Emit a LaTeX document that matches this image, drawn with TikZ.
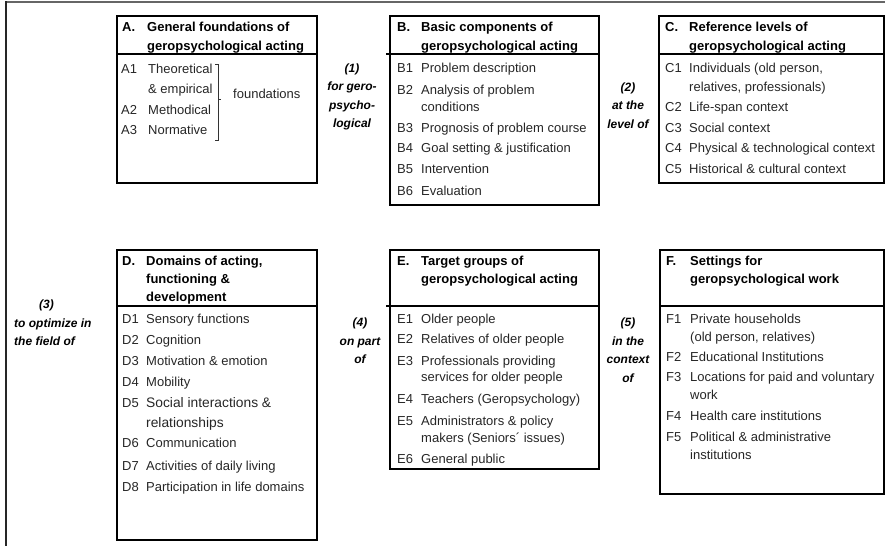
\documentclass[tikz,border=0pt]{standalone}
\usepackage{fontspec}
\setmainfont{Liberation Sans}
\begin{document}
\begin{tikzpicture}[x=1pt,y=-1pt,
  panel/.style={draw=black, line width=1.6pt, inner sep=0pt, anchor=north west},
  rule/.style={line width=1.2pt, black},
  head/.style={anchor=base west, inner sep=0pt, font=\fontsize{13}{15}\selectfont\bfseries},
  entry/.style={anchor=base west, inner sep=0pt, font=\fontsize{13}{15}\selectfont, text=black!85},
  bigentry/.style={entry, font=\fontsize{13.8}{16}\selectfont},
  link/.style={align=center, inner sep=0pt, font=\fontsize{12}{18.5}\selectfont\bfseries\itshape},
  brace/.style={line width=0.9pt, black!80},
]
\useasboundingbox (0,0) rectangle (885,546);

% outer frame: top and left edges only
\draw[line width=1.5pt, black!60] (5,2) -- (885,2);
\draw[line width=1.5pt, black!85] (6,1.3) -- (6,546);

% ---------- panels ----------
\node[panel, minimum width=200pt, minimum height=167pt] (A) at (116,15) {};
\node[panel, minimum width=209pt, minimum height=189pt] (B) at (389,15) {};
\node[panel, minimum width=225pt, minimum height=167pt] (C) at (658,15) {};
\node[panel, minimum width=200pt, minimum height=290pt] (D) at (116,249) {};
\node[panel, minimum width=209pt, minimum height=219pt] (E) at (389,249) {};
\node[panel, minimum width=224pt, minimum height=244pt] (F) at (659,249) {};

% header rules
\draw[rule] (116,54) -- (316,54);
\draw[rule] (386,54) -- (598,54);
\draw[rule] (658,54) -- (883,54);
\draw[rule] (116,306) -- (316,306);
\draw[rule] (386,306) -- (598,306);
\draw[rule] (659,306) -- (883,306);

% ---------- A ----------
\node[head] (Ah) at (122,31.5) {A.};
\node[head] (Ah1) at (147,31.5) {General foundations of};
\node[head] (Ah2) at (147,50) {geropsychological acting};
\node[entry] (A1k) at (121,73.5) {A1};
\node[entry] (A1) at (148,73.5) {Theoretical};
\node[entry] (A1b) at (148,93.5) {\& empirical};
\node[entry] (A2k) at (121,114.5) {A2};
\node[entry] (A2) at (148,114.5) {Methodical};
\node[entry] (A3k) at (121,134.5) {A3};
\node[entry] (A3) at (148,134.5) {Normative};
\draw[brace] (215,64) -- (218,64) -- (218,140) -- (215,140);
\draw[brace] (218,99) -- (221,99);
\node[entry] (Af) at (233,98) {foundations};

% ---------- B ----------
\node[head] (Bh) at (397,31.5) {B.};
\node[head] (Bh1) at (421,31.5) {Basic components of};
\node[head] (Bh2) at (421,50) {geropsychological acting};
\node[entry] (B1k) at (397,72.5) {B1};
\node[entry] (B1) at (421,72.5) {Problem description};
\node[entry] (B2k) at (397,94.5) {B2};
\node[entry] (B2) at (421,94.5) {Analysis of problem};
\node[entry] (B2b) at (421,111.5) {conditions};
\node[entry] (B3k) at (397,132.5) {B3};
\node[entry] (B3) at (421,132.5) {Prognosis of problem course};
\node[entry] (B4k) at (397,152.5) {B4};
\node[entry] (B4) at (421,152.5) {Goal setting \& justification};
\node[entry] (B5k) at (397,173.5) {B5};
\node[entry] (B5) at (421,173.5) {Intervention};
\node[entry] (B6k) at (397,195.5) {B6};
\node[entry] (B6) at (421,195.5) {Evaluation};

% ---------- C ----------
\node[head] (Ch) at (665,31.5) {C.};
\node[head] (Ch1) at (689,31.5) {Reference levels of};
\node[head] (Ch2) at (689,50) {geropsychological acting};
\node[entry] (C1k) at (665,72.5) {C1};
\node[entry] (C1) at (689,72.5) {Individuals (old person,};
\node[entry] (C1b) at (689,91.5) {relatives, professionals)};
\node[entry] (C2k) at (665,111.5) {C2};
\node[entry] (C2) at (689,111.5) {Life-span context};
\node[entry] (C3k) at (665,132.5) {C3};
\node[entry] (C3) at (689,132.5) {Social context};
\node[entry] (C4k) at (665,152.5) {C4};
\node[entry] (C4) at (689,152.5) {Physical \& technological context};
\node[entry] (C5k) at (665,173.5) {C5};
\node[entry] (C5) at (689,173.5) {Historical \& cultural context};

% ---------- D ----------
\node[head] (Dh) at (122,265.5) {D.};
\node[head] (Dh1) at (146,265.5) {Domains of acting,};
\node[head] (Dh2) at (146,283.5) {functioning \&};
\node[head] (Dh3) at (146,301.5) {development};
\node[entry] (D1k) at (122,323.5) {D1};
\node[entry] (D1) at (146,323.5) {Sensory functions};
\node[entry] (D2k) at (122,344.5) {D2};
\node[entry] (D2) at (146,344.5) {Cognition};
\node[entry] (D3k) at (122,365.5) {D3};
\node[entry] (D3) at (146,365.5) {Motivation \& emotion};
\node[entry] (D4k) at (122,386.5) {D4};
\node[entry] (D4) at (146,386.5) {Mobility};
\node[entry] (D5k) at (122,407.5) {D5};
\node[bigentry] (D5) at (146,407.5) {Social interactions \&};
\node[bigentry] (D5b) at (146,427.5) {relationships};
\node[entry] (D6k) at (122,447.5) {D6};
\node[entry] (D6) at (146,447.5) {Communication};
\node[entry] (D7k) at (122,470.5) {D7};
\node[entry] (D7) at (146,470.5) {Activities of daily living};
\node[entry] (D8k) at (122,491.5) {D8};
\node[entry] (D8) at (146,491.5) {Participation in life domains};

% ---------- E ----------
\node[head] (Eh) at (397,265.5) {E.};
\node[head] (Eh1) at (421,265.5) {Target groups of};
\node[head] (Eh2) at (421,283.5) {geropsychological acting};
\node[entry] (E1k) at (397,323.5) {E1};
\node[entry] (E1) at (421,323.5) {Older people};
\node[entry] (E2k) at (397,343.5) {E2};
\node[entry] (E2) at (421,343.5) {Relatives of older people};
\node[entry] (E3k) at (397,365.5) {E3};
\node[entry] (E3) at (421,365.5) {Professionals providing};
\node[entry] (E3b) at (421,381.5) {services for older people};
\node[entry] (E4k) at (397,403.5) {E4};
\node[entry] (E4) at (421,403.5) {Teachers (Geropsychology)};
\node[entry] (E5k) at (397,425.5) {E5};
\node[entry] (E5) at (421,425.5) {Administrators \& policy};
\node[entry] (E5b) at (421,442.5) {makers (Seniors´ issues)};
\node[entry] (E6k) at (397,463.5) {E6};
\node[entry] (E6) at (421,463.5) {General public};

% ---------- F ----------
\node[head] (Fh) at (666,265.5) {F.};
\node[head] (Fh1) at (690,265.5) {Settings for};
\node[head] (Fh2) at (690,283.5) {geropsychological work};
\node[entry] (F1k) at (666,323.5) {F1};
\node[entry] (F1) at (690,323.5) {Private households};
\node[entry] (F1b) at (690,341.5) {(old person, relatives)};
\node[entry] (F2k) at (666,361.5) {F2};
\node[entry] (F2) at (690,361.5) {Educational Institutions};
\node[entry] (F3k) at (666,381.5) {F3};
\node[entry] (F3) at (690,381.5) {Locations for paid and voluntary};
\node[entry] (F3b) at (690,399.5) {work};
\node[entry] (F4k) at (666,420.5) {F4};
\node[entry] (F4) at (690,420.5) {Health care institutions};
\node[entry] (F5k) at (666,441.5) {F5};
\node[entry] (F5) at (690,441.5) {Political \& administrative};
\node[entry] (F5b) at (690,459.5) {institutions};

% ---------- linking phrases ----------
\node[link] (L1) at (352,97) {(1)\\for gero-\\psycho-\\logical};
\node[link] (L2) at (628,105.5) {(2)\\at the\\level of};
\node[link, align=left, anchor=north west] (L3) at (14,300) {\hspace*{25pt}(3)\\to optimize in\\the field of};
\node[link] (L4) at (360,341) {(4)\\on part\\of};
\node[link] (L5) at (628,350) {(5)\\in the\\context\\of};
\end{tikzpicture}
\end{document}
